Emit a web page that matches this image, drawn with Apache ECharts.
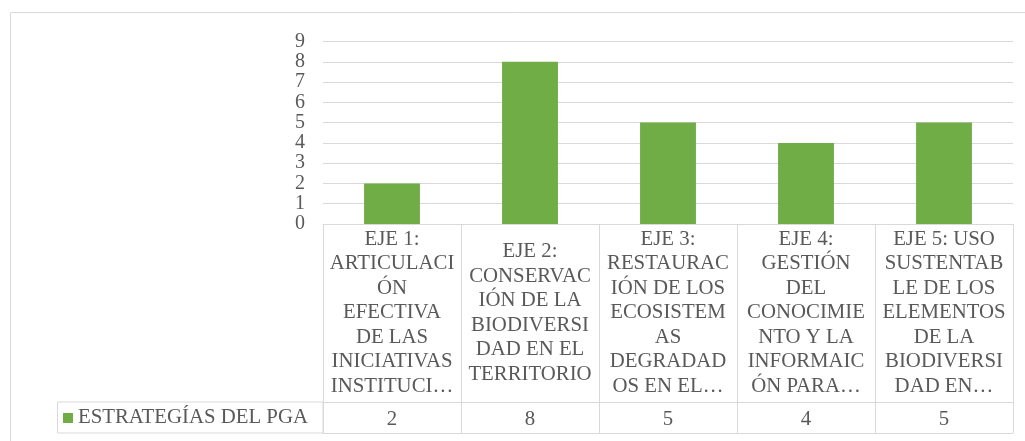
<!DOCTYPE html>
<html>
<head>
<meta charset="utf-8">
<script src="https://cdn.jsdelivr.net/npm/echarts@6/dist/echarts.min.js"></script>
<style>
html, body { margin: 0; padding: 0; background: #fff; }
#charts { width: 1025px; height: 441px; }
</style>
</head>
<body>
<div id="charts"></div>
<script>
// categorias tal como salen en la tabla (cortadas como en Excel)
var categorias = [
	"EJE 1:\nARTICULACI\nÓN\nEFECTIVA\nDE LAS\nINICIATIVAS\nINSTITUCI…",
	"EJE 2:\nCONSERVAC\nIÓN DE LA\nBIODIVERSI\nDAD EN EL\nTERRITORIO",
	"EJE 3:\nRESTAURAC\nIÓN DE LOS\nECOSISTEM\nAS\nDEGRADAD\nOS EN EL…",
	"EJE 4:\nGESTIÓN\nDEL\nCONOCIMIE\nNTO Y LA\nINFORMAIC\nÓN PARA…",
	"EJE 5: USO\nSUSTENTAB\nLE DE LOS\nELEMENTOS\nDE LA\nBIODIVERSI\nDAD EN…"
];
var valores = [2, 8, 5, 4, 5];
var serieNombre = "ESTRATEGÍAS DEL PGA";
var ejeY = [0, 1, 2, 3, 4, 5, 6, 7, 8, 9];

function echart() {
	var fuente = "'Liberation Serif', 'Times New Roman', serif";
	var gris = "#595959", linea = "#d9d9d9";
	var tam = 20.8;
	// posiciones del grafico y de la tabla
	var izq = 323, der = 1013, arriba = 41.5, tablaTop = 224, cabeceraBottom = 402, tablaBottom = 433, leyendaIzq = 57;

	var chart = echarts.init(document.getElementById("charts"));
	var option = {
		animation: false,
		graphic: {
			elements: [{
				type: 'rect',
				shape: { x: 10.5, y: 12.5, width: 1100, height: 600 },
				style: { fill: null, stroke: linea, lineWidth: 1 },
				z: -1
			}, {
				type: 'rect',
				shape: { x: leyendaIzq + 0.5, y: cabeceraBottom, width: izq - leyendaIzq - 0.5, height: tablaBottom - cabeceraBottom },
				style: { fill: null, stroke: linea, lineWidth: 1 }
			}]
		},
		legend: {
			left: leyendaIzq + 6,
			top: 406,
			padding: 0,
			icon: 'rect',
			itemWidth: 10,
			itemHeight: 10,
			textStyle: { fontFamily: fuente, fontSize: tam, color: gris, lineHeight: 24 },
			data: [serieNombre]
		},
		grid: {
			left: izq,
			right: 1025 - der,
			top: arriba,
			bottom: 441 - tablaTop,
			containLabel: false,
			outerBoundsMode: 'none'
		},
		xAxis: [{
			type: 'category',
			data: categorias,
			position: 'bottom',
			axisLine: { show: true, lineStyle: { color: linea, width: 1 } },
			axisTick: { show: true, length: tablaBottom - tablaTop, lineStyle: { color: linea, width: 1 } },
			axisLabel: {
				interval: 0,
				margin: (cabeceraBottom - tablaTop) / 2,
				verticalAlign: 'middle',
				align: 'center',
				fontFamily: fuente,
				fontSize: tam,
				lineHeight: 24.5,
				color: gris
			}
		}, {
			type: 'category',
			data: categorias,
			position: 'bottom',
			offset: cabeceraBottom - tablaTop,
			axisLine: { show: true, lineStyle: { color: linea, width: 1 } },
			axisTick: { show: false },
			axisLabel: {
				interval: 0,
				margin: 17.5,
				verticalAlign: 'middle',
				fontFamily: fuente,
				fontSize: tam,
				color: gris,
				formatter: function(v, i) { return String(valores[i]); }
			}
		}, {
			type: 'category',
			data: categorias,
			position: 'bottom',
			offset: tablaBottom - tablaTop,
			axisLine: { show: true, lineStyle: { color: linea, width: 1 } },
			axisTick: { show: false },
			axisLabel: { show: false }
		}],
		yAxis: {
			type: 'value',
			min: ejeY[0],
			max: ejeY[ejeY.length - 1],
			interval: 1,
			axisLine: { show: false },
			axisTick: { show: false },
			splitLine: { lineStyle: { color: linea, width: 1 } },
			axisLabel: {
				margin: 18,
				fontFamily: fuente,
				fontSize: 20,
				color: gris
			}
		},
		series: [{
			name: serieNombre,
			type: 'bar',
			xAxisIndex: 0,
			barWidth: '40.5%',
			itemStyle: { color: '#70AD47' },
			data: valores
		}]
	};
	chart.setOption(option);
}
echart();
</script>
</body>
</html>
